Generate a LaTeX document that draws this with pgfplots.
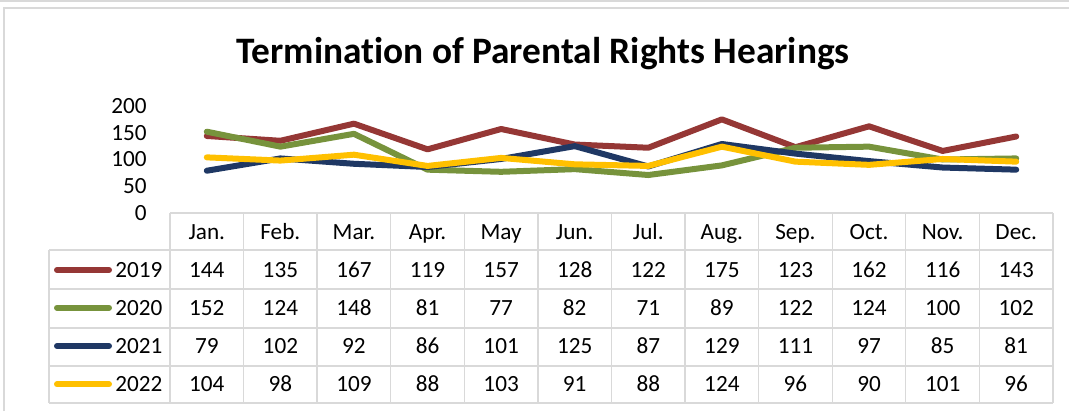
\documentclass[border=0pt]{standalone}
\usepackage{fontspec}
\setmainfont{Carlito}[Ligatures=NoCommon]
\usepackage{pgfplots}
\usepackage{pgfplotstable}
\pgfplotsset{compat=1.18}

\definecolor{c2019}{HTML}{953735}
\definecolor{c2020}{HTML}{77933C}
\definecolor{c2021}{HTML}{1F3864}
\definecolor{c2022}{HTML}{FFC000}
\definecolor{gridgray}{HTML}{D9D9D9}

\newcommand\tabfont{\fontsize{17.4}{20}\selectfont}
\newcommand\titlefont{\fontsize{28}{32}\selectfont\bfseries}

% hearings per month
\pgfplotstableread{
idx month y2019 y2020 y2021 y2022
0  Jan. 144 152 79  104
1  Feb. 135 124 102 98
2  Mar. 167 148 92  109
3  Apr. 119 81  86  88
4  May  157 77  101 103
5  Jun. 128 82  125 91
6  Jul. 122 71  87  88
7  Aug. 175 89  129 124
8  Sep. 123 122 111 96
9  Oct. 162 124 97  90
10 Nov. 116 100 85  101
11 Dec. 143 102 81  96
}\data

\begin{document}
\begin{tikzpicture}
% pixel grid of the reference, y downwards
\begin{scope}[x=0.75pt,y=-0.75pt]
\useasboundingbox (0,0) rectangle (1069,411);
\draw[gridgray, line width=1.1pt] (0,0.8) -- (1069,0.8);
\draw[gridgray, line width=1.1pt] (4,411) -- (4,7.8) -- (1069,7.8);
\node[font=\titlefont, anchor=base, inner sep=0pt] at (543,63) {Termination of Parental Rights Hearings};
% table grid
\draw[gridgray, line width=1pt] (170,213) -- (1053,213);
\foreach \yy in {250,289,328,366,403} \draw[gridgray, line width=1pt] (49,\yy) -- (1053,\yy);
\draw[gridgray, line width=1pt] (49,250) -- (49,403);
\foreach \k in {0,...,12} \draw[gridgray, line width=1pt] ({170+\k*73.58},213) -- ({170+\k*73.58},403);
% legend keys
\foreach \c/\yr/\yy in {c2019/2019/277.3, c2020/2020/315, c2021/2021/353.3, c2022/2022/391.7} {
  \draw[\c, line width=4.5pt, line cap=round] (57,\yy-7.3) -- (109,\yy-7.3);
  \node[font=\tabfont, anchor=base west, inner sep=0pt] at (115,\yy) {\yr};
}
\end{scope}

\begin{axis}[
    at={(127.5pt,-159.75pt)}, anchor=south west,
    scale only axis, width=662.25pt, height=80.25pt,
    xmin=-0.5, xmax=11.5, ymin=0, ymax=200,
    clip=false,
    axis line style={draw=none}, tick style={draw=none},
    major tick length=0pt,
    xtick=\empty, ytick={0,50,...,200},
    /pgf/number format/assume math mode=true,
    yticklabel style={font=\tabfont, anchor=east, inner sep=0pt, xshift=-17.25pt},
    every node near coord/.append style={font=\tabfont, anchor=base, inner sep=0pt},
]
\addplot[c2019, line width=4.5pt, line join=round, line cap=round] table[x=idx, y=y2019] {\data};
\addplot[c2020, line width=4.5pt, line join=round, line cap=round] table[x=idx, y=y2020] {\data};
\addplot[c2021, line width=4.5pt, line join=round, line cap=round] table[x=idx, y=y2021] {\data};
\addplot[c2022, line width=4.5pt, line join=round, line cap=round] table[x=idx, y=y2022] {\data};
% data table text
\addplot[draw=none, nodes near coords, point meta=explicit symbolic] table[x=idx, y expr=-48.6, meta=month] {\data};
\addplot[draw=none, nodes near coords, point meta=explicit symbolic] table[x=idx, y expr=-120.2, meta=y2019] {\data};
\addplot[draw=none, nodes near coords, point meta=explicit symbolic] table[x=idx, y expr=-190.7, meta=y2020] {\data};
\addplot[draw=none, nodes near coords, point meta=explicit symbolic] table[x=idx, y expr=-262.2, meta=y2021] {\data};
\addplot[draw=none, nodes near coords, point meta=explicit symbolic] table[x=idx, y expr=-334.0, meta=y2022] {\data};
\end{axis}
\end{tikzpicture}
\end{document}
